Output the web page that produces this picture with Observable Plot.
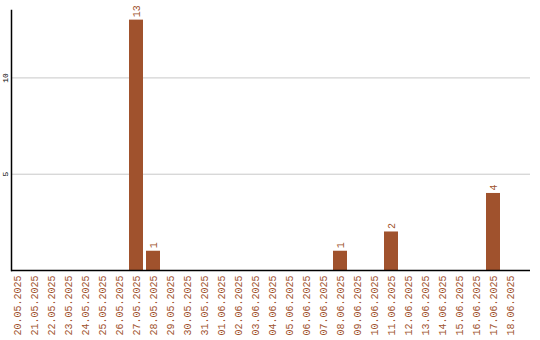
<!DOCTYPE html>
<html>
<head>
<meta charset="utf-8">
<script src="https://cdn.jsdelivr.net/npm/d3@7"></script>
<script src="https://cdn.jsdelivr.net/npm/@observablehq/plot@0.6"></script>
<style>
  html, body { margin: 0; padding: 0; background: #fff; }
</style>
</head>
<body>
<div id="chart"></div>
<script>
const dates = [
  "20.05.2025","21.05.2025","22.05.2025","23.05.2025","24.05.2025","25.05.2025",
  "26.05.2025","27.05.2025","28.05.2025","29.05.2025","30.05.2025","31.05.2025",
  "01.06.2025","02.06.2025","03.06.2025","04.06.2025","05.06.2025","06.06.2025",
  "07.06.2025","08.06.2025","09.06.2025","10.06.2025","11.06.2025","12.06.2025",
  "13.06.2025","14.06.2025","15.06.2025","16.06.2025","17.06.2025","18.06.2025"
];
const counts = [
  0,0,0,0,0,0,
  0,13,1,0,0,0,
  0,0,0,0,0,0,
  0,1,0,0,2,0,
  0,0,0,0,4,0
];
const yTicks = [5, 10];

const data = dates.map((d, i) => ({date: d, count: counts[i]}));
const color = "#a0522d";

const chart = Plot.plot({
  width: 540,
  height: 340,
  marginTop: 10,
  marginBottom: 70,
  marginLeft: 11,
  marginRight: 10,
  style: {fontFamily: "'Liberation Mono', monospace", background: "#fff"},
  x: {type: "band", domain: dates, range: [8.5, 518.5], paddingInner: 3/17, paddingOuter: 1.5/17, axis: null},
  y: {domain: [0, 13.5], axis: null},
  marks: [
    Plot.gridY(yTicks, {stroke: "#c8c8c8", strokeOpacity: 1}),
    Plot.barY(data, {x: "date", y: "count", fill: color}),
    Plot.text(data.filter(d => d.count > 0), {
      x: "date", y: "count", text: d => String(d.count),
      rotate: -90, textAnchor: "start", dy: -3, fill: color, fontSize: 10
    }),
    Plot.axisX({tickRotate: -90, tickSize: 0, tickPadding: 5, fill: color, fontSize: 10, label: null}),
    Plot.text(yTicks, {
      y: d => d, text: d => String(d), frameAnchor: "left", dx: -6,
      rotate: -90, textAnchor: "middle", fill: "#000", fontSize: 8
    }),
    Plot.ruleY([0], {stroke: "#000", strokeWidth: 1.5}),
    Plot.frame({anchor: "left", stroke: "#000", strokeWidth: 1.5})
  ]
});
document.getElementById("chart").appendChild(chart);
</script>
</body>
</html>
